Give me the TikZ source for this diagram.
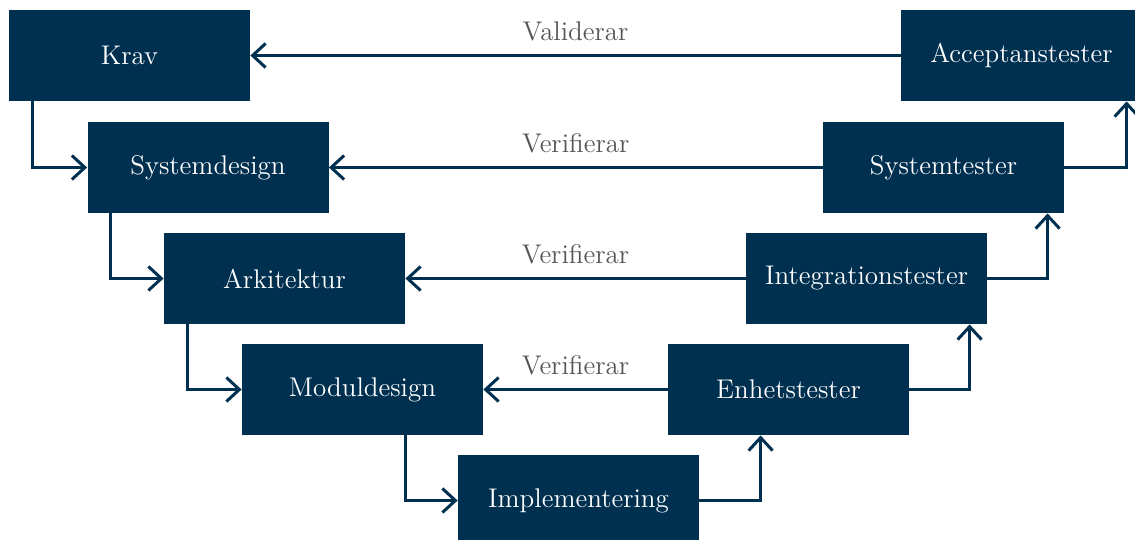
\documentclass[tikz,border=0pt]{standalone}
\usepackage{tikz}
\usetikzlibrary{calc}
\usetikzlibrary{arrows.meta}

\definecolor{vblue}{RGB}{0,48,80}
\definecolor{vgray}{RGB}{85,85,85}

\tikzset{
	fas/.style={fill=vblue, text=white, minimum width=120.5pt, minimum height=45.5pt, inner sep=0pt, font=\fontsize{13.5}{16}\selectfont},
	pil/.style={draw=vblue, line width=1.5pt, -{Straight Barb[length=6.5pt,width=12pt]}},
	etikett/.style={above=3pt, text=vgray, font=\fontsize{13.5}{16}\selectfont}
}

\begin{document}
\begin{tikzpicture}[x=0.5pt,y=-0.5pt]
				\useasboundingbox (0,0) rectangle (1135,540);
				
				% vanstra benet
				\node[fas] (Krav)    at (129.5,55.5)  {Krav};
				\node[fas] (SysDes)  at (208,167.5)   {Systemdesign};
				\node[fas] (Ark)     at (284.5,278.5) {Arkitektur};
				\node[fas] (ModDes)  at (362.5,389.5) {Moduldesign};
				\node[fas] (Impl)    at (578.5,500.5) {Implementering};
				
				% hogra benet
				\node[fas] (Enhet)   at (788.5,389.5)  {Enhetstester};
				\node[fas] (Integ)   at (866.5,278.5)  {Integrationstester};
				\node[fas] (SysTest) at (943.5,167.5)  {Systemtester};
				\node[fas] (Accept)  at (1021.5,55.5)  {Acceptanstester};
				
				% ner
				\draw[pil] ($(Krav.south west)+(24,0)$) |- (SysDes.west);
				\draw[pil] ($(SysDes.south west)+(23,0)$) |- (Ark.west);
				\draw[pil] ($(Ark.south west)+(24,0)$) |- (ModDes.west);
				\draw[pil] ($(ModDes.south east)+(-78,0)$) |- (Impl.west);
				
				% upp
				\draw[pil] (Impl.east) -| ($(Enhet.south west)+(93,0)$);
				\draw[pil] (Enhet.east) -| ($(Integ.south west)+(224,0)$);
				\draw[pil] (Integ.east) -| ($(SysTest.south west)+(225,0)$);
				\draw[pil] (SysTest.east) -| ($(Accept.south west)+(226,0)$);
				
				% tvars
				\draw[pil] (Accept.west) -- (Krav.east) node[etikett,midway] {Validerar};
				\draw[pil] (SysTest.west) -- (SysDes.east) node[etikett,midway] {Verifierar};
				\draw[pil] (Integ.west) -- (Ark.east) node[etikett,midway] {Verifierar};
				\draw[pil] (Enhet.west) -- (ModDes.east) node[etikett,midway] {Verifierar};
				
\end{tikzpicture}
\end{document}
